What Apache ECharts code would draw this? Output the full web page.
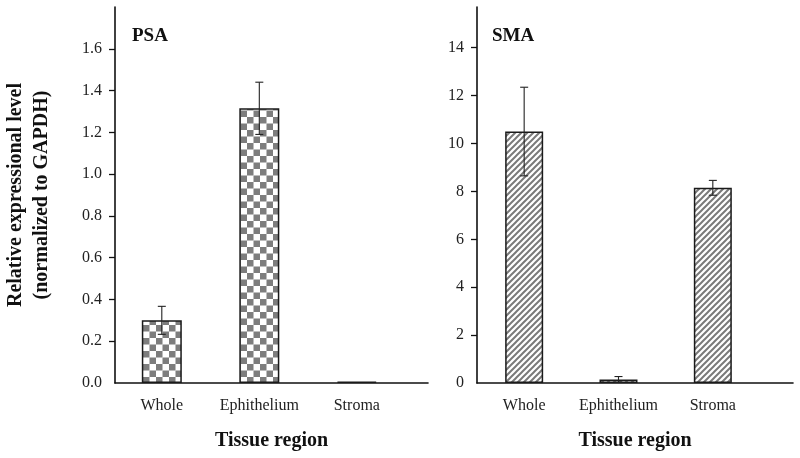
<!DOCTYPE html>
<html>
<head>
<meta charset="utf-8">
<script src="https://cdn.jsdelivr.net/npm/echarts@6/dist/echarts.min.js"></script>
<style>html,body{margin:0;padding:0;background:#fff}#c{width:800px;height:458px}</style>
</head>
<body>
<div id="c"></div>
<script>
// ---- data ----
var categories = ['Whole', 'Ephithelium', 'Stroma'];
var psaValues = [0.30, 1.315, 0.006];
var psaErrors = [0.067, 0.125, 0.0];
var smaValues = [10.5, 0.15, 8.15];
var smaErrors = [1.85, 0.12, 0.31];
var psaTicks = [0, 0.2, 0.4, 0.6, 0.8, 1.0, 1.2, 1.4, 1.6];
var smaTicks = [0, 2, 4, 6, 8, 10, 12, 14];
var panelTitles = ['PSA', 'SMA'];
var yAxisTitle = 'Relative expressional level\n(normalized to GAPDH)';
var xAxisTitle = 'Tissue region';

var FONT = "'Liberation Serif','Times New Roman',Times,serif";

function checkerPattern() {
  var c = document.createElement('canvas');
  var s = 6.5;
  c.width = 13; c.height = 13;
  var ctx = c.getContext('2d');
  ctx.fillStyle = '#ffffff'; ctx.fillRect(0, 0, 13, 13);
  ctx.fillStyle = '#7d7d7d';
  ctx.fillRect(0, 0, s, s);
  ctx.fillRect(s, s, s, s);
  return c;
}
function hatchPattern() {
  var p = 6;
  var c = document.createElement('canvas');
  c.width = p; c.height = p;
  var ctx = c.getContext('2d');
  ctx.fillStyle = '#ffffff'; ctx.fillRect(0, 0, p, p);
  ctx.strokeStyle = '#7a7a7a';
  ctx.lineWidth = 2;
  ctx.beginPath();
  ctx.moveTo(0, p); ctx.lineTo(p, 0);
  ctx.moveTo(-p / 2, p / 2); ctx.lineTo(p / 2, -p / 2);
  ctx.moveTo(p / 2, p * 1.5); ctx.lineTo(p * 1.5, p / 2);
  ctx.stroke();
  return c;
}

var chart = echarts.init(document.getElementById('c'), null, {renderer: 'canvas'});

function barData(vals) { return vals.map(function (v, i) { return [i, v]; }); }
function errData(vals, errs) { return vals.map(function (v, i) { return [i, v - errs[i], v + errs[i]]; }); }

function errorRender(params, api) {
  var x = api.value(0);
  var lo = api.coord([x, api.value(1)]);
  var hi = api.coord([x, api.value(2)]);
  if (api.value(2) - api.value(1) <= 0) return null;
  var w = 4;
  var st = {stroke: '#222', lineWidth: 1.1, fill: null};
  return {
    type: 'group',
    children: [
      {type: 'line', shape: {x1: lo[0], y1: lo[1], x2: hi[0], y2: hi[1]}, style: st},
      {type: 'line', shape: {x1: lo[0] - w, y1: lo[1], x2: lo[0] + w, y2: lo[1]}, style: st},
      {type: 'line', shape: {x1: hi[0] - w, y1: hi[1], x2: hi[0] + w, y2: hi[1]}, style: st}
    ]
  };
}

var axisLineStyle = {color: '#111', width: 1.6};
var labelStyle = {color: '#222', fontFamily: FONT, fontSize: 16};

var option = {
  animation: false,
  backgroundColor: '#fff',
  grid: [
    {left: 115, right: 372, top: 7, bottom: 75, containLabel: false, outerBoundsMode: 'none'},
    {left: 477, right: 7, top: 7, bottom: 75, containLabel: false, outerBoundsMode: 'none'}
  ],
  title: [
    {text: panelTitles[0], left: 127, top: 22, textStyle: {fontFamily: FONT, fontWeight: 'bold', fontSize: 19, color: '#111'}},
    {text: panelTitles[1], left: 487, top: 22, textStyle: {fontFamily: FONT, fontWeight: 'bold', fontSize: 19, color: '#111'}}
  ],
  xAxis: [
    {
      gridIndex: 0, type: 'value', min: -0.48, max: 2.73,
      axisLine: {show: true, lineStyle: axisLineStyle, onZero: false},
      axisTick: {show: false},
      splitLine: {show: false},
      axisLabel: Object.assign({margin: 15, customValues: [0, 1, 2], formatter: function (v) { return categories[Math.round(v)] || ''; }}, labelStyle),
      name: xAxisTitle, nameLocation: 'middle', nameGap: 48,
      nameTextStyle: {fontFamily: FONT, fontWeight: 'bold', fontSize: 20, color: '#111'}
    },
    {
      gridIndex: 1, type: 'value', min: -0.5, max: 2.85,
      axisLine: {show: true, lineStyle: axisLineStyle, onZero: false},
      axisTick: {show: false},
      splitLine: {show: false},
      axisLabel: Object.assign({margin: 15, customValues: [0, 1, 2], formatter: function (v) { return categories[Math.round(v)] || ''; }}, labelStyle),
      name: xAxisTitle, nameLocation: 'middle', nameGap: 48,
      nameTextStyle: {fontFamily: FONT, fontWeight: 'bold', fontSize: 20, color: '#111'}
    }
  ],
  yAxis: [
    {
      gridIndex: 0, type: 'value', min: 0, max: 1.8,
      axisLine: {show: true, lineStyle: axisLineStyle, onZero: false},
      axisTick: {show: true, inside: false, length: 6, lineStyle: {color: '#111', width: 1.3}, customValues: psaTicks.slice(1)},
      splitLine: {show: false},
      axisLabel: Object.assign({margin: 13, customValues: psaTicks, formatter: function (v) { return v.toFixed(1); }}, labelStyle),
      name: yAxisTitle, nameLocation: 'middle', nameRotate: 90, nameGap: 60,
      nameTextStyle: {fontFamily: FONT, fontWeight: 'bold', fontSize: 20, color: '#111', lineHeight: 26}
    },
    {
      gridIndex: 1, type: 'value', min: 0, max: 15.7,
      axisLine: {show: true, lineStyle: axisLineStyle, onZero: false},
      axisTick: {show: true, inside: false, length: 6, lineStyle: {color: '#111', width: 1.3}, customValues: smaTicks.slice(1)},
      splitLine: {show: false},
      axisLabel: Object.assign({margin: 13, customValues: smaTicks, formatter: function (v) { return String(v); }}, labelStyle)
    }
  ],
  series: [
    {
      type: 'bar', xAxisIndex: 0, yAxisIndex: 0, barWidth: 40,
      data: barData(psaValues),
      itemStyle: {color: {image: checkerPattern(), repeat: 'repeat'}, borderColor: '#1a1a1a', borderWidth: 1.5}
    },
    {
      type: 'custom', xAxisIndex: 0, yAxisIndex: 0,
      data: errData(psaValues, psaErrors), renderItem: errorRender, z: 5
    },
    {
      type: 'bar', xAxisIndex: 1, yAxisIndex: 1, barWidth: 38,
      data: barData(smaValues),
      itemStyle: {color: {image: hatchPattern(), repeat: 'repeat'}, borderColor: '#1a1a1a', borderWidth: 1.5}
    },
    {
      type: 'custom', xAxisIndex: 1, yAxisIndex: 1,
      data: errData(smaValues, smaErrors), renderItem: errorRender, z: 5
    }
  ]
};
chart.setOption(option);
</script>
</body>
</html>
